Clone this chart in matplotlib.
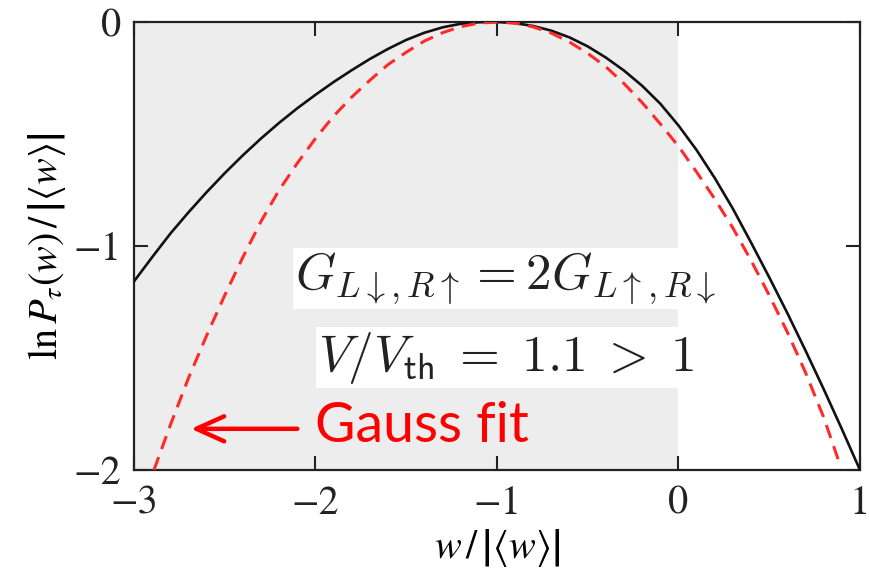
import matplotlib
matplotlib.use("Agg")
import matplotlib.pyplot as plt

plt.rcParams['mathtext.fontset'] = 'stix'
plt.rcParams['font.family'] = ['STIXGeneral', 'DejaVu Serif']

# Full counting statistics (black) and Gaussian fit (red dashed)
w_full = [-3.0, -2.9, -2.8, -2.7, -2.6, -2.5, -2.4, -2.3, -2.2, -2.1, -2.0,
          -1.9, -1.8, -1.7, -1.6, -1.5, -1.4, -1.3, -1.2, -1.1, -1.0,
          -0.9, -0.8, -0.7, -0.6, -0.5, -0.4, -0.3, -0.2, -0.1, 0.0,
          0.1, 0.2, 0.3, 0.4, 0.5, 0.6, 0.7, 0.8, 0.9, 1.0]
lnP_full = [-1.158, -1.05, -0.945, -0.85, -0.76, -0.675, -0.595, -0.52, -0.45,
            -0.385, -0.325, -0.268, -0.215, -0.165, -0.12, -0.08, -0.048, -0.024,
            -0.008, -0.001, 0.0,
            -0.005, -0.018, -0.039, -0.069, -0.109, -0.159, -0.217, -0.285,
            -0.365, -0.462,
            -0.572, -0.697, -0.834, -0.985, -1.14, -1.3, -1.467, -1.639, -1.817, -2.0]

w_gauss = [-2.89, -2.8, -2.7, -2.6, -2.5, -2.4, -2.3, -2.2, -2.1, -2.0,
           -1.9, -1.8, -1.7, -1.6, -1.5, -1.4, -1.3, -1.2, -1.1, -1.0,
           -0.9, -0.8, -0.7, -0.6, -0.5, -0.4, -0.3, -0.2, -0.1, 0.0,
           0.1, 0.2, 0.3, 0.4, 0.5, 0.6, 0.7, 0.8, 0.885]
lnP_gauss = [-2.0, -1.8, -1.59, -1.4, -1.22, -1.05, -0.89, -0.75, -0.63, -0.52,
             -0.42, -0.335, -0.26, -0.19, -0.135, -0.085, -0.048, -0.021, -0.005, 0.0,
             -0.005, -0.022, -0.05, -0.09, -0.14, -0.2, -0.275, -0.36, -0.455, -0.555,
             -0.67, -0.79, -0.92, -1.065, -1.22, -1.385, -1.565, -1.765, -1.965]

x_ticks = [-3, -2, -1, 0, 1]
y_ticks = [-2, -1, 0]
shade_range = (-3, 0)

fig = plt.figure(figsize=(8.7, 5.77), dpi=100)
ax = fig.add_axes([0.154, 0.1854, 0.8345, 0.7765])

ax.axvspan(*shade_range, color='#ededed', lw=0, zorder=0)
ax.plot(w_full, lnP_full, color='#111111', lw=1.9, zorder=3)
ax.plot(w_gauss, lnP_gauss, color='#ff2a2a', lw=2.2, dashes=(4.5, 2.8), zorder=3)

ax.set_xlim(-3, 1)
ax.set_ylim(-2, 0)
ax.set_xticks(x_ticks)
ax.set_yticks(y_ticks)
ax.tick_params(direction='in', length=10, width=1.5, top=True, right=True,
               labelsize=29, pad=9, colors='#222222')
ax.tick_params(axis='x', pad=11)
for s in ax.spines.values():
    s.set_linewidth(1.6)
    s.set_color('#222222')

ax.set_xlabel(r'$w\,/\,\left|\left\langle w\right\rangle\right|$', fontsize=29, labelpad=3)
ax.set_ylabel(r'$\ln P_{\tau}(w)\,/\,\left|\left\langle w\right\rangle\right|$',
              fontsize=29, labelpad=4)

box = dict(facecolor='white', edgecolor='none', pad=2)
ax.text(-0.95, -1.146, r'$G_{L\downarrow,R\uparrow} = 2G_{L\uparrow,R\downarrow}$',
        math_fontfamily='cm', fontsize=37, ha='center', va='center',
        color='#222222', bbox=box, zorder=4)
ax.text(-0.95, -1.499, r'$V/V_{\mathsf{th}}\;=\;1.1\;>\;1$',
        math_fontfamily='cm', fontsize=37, ha='center', va='center',
        color='#222222', bbox=box, zorder=4)

ax.annotate('', xy=(-2.686, -1.816), xytext=(-2.10, -1.816),
            arrowprops=dict(arrowstyle='->,head_length=1.0,head_width=0.45',
                            color='red', lw=3.2, mutation_scale=20,
                            capstyle='round', joinstyle='round',
                            shrinkA=0, shrinkB=0), zorder=4)
ax.text(-2.0, -1.807, 'Gauss fit', family=['Lato', 'DejaVu Sans'], fontsize=40,
        color='red', ha='left', va='center', zorder=4)

fig.savefig('out.png', dpi=100)
